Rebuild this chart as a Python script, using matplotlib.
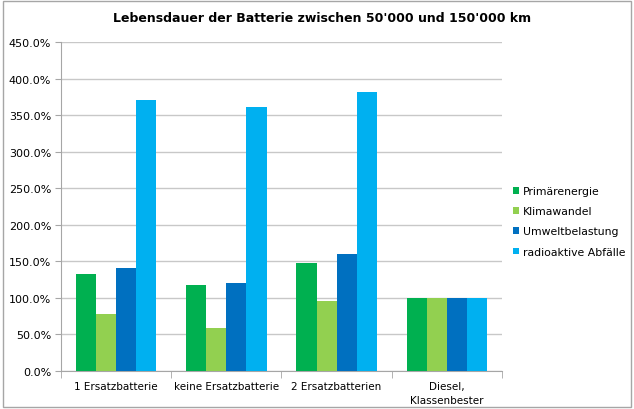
import matplotlib
matplotlib.use("Agg")
import matplotlib.pyplot as plt
import numpy as np
from matplotlib.patches import Rectangle
from matplotlib.ticker import FuncFormatter, MultipleLocator, FixedLocator

categories = ["1 Ersatzbatterie", "keine Ersatzbatterie", "2 Ersatzbatterien", "Diesel,\nKlassenbester"]
series_names = ["Primärenergie", "Klimawandel", "Umweltbelastung", "radioaktive Abfälle"]
primaer = [133, 118, 148, 100]
klima = [78, 59, 96, 100]
umwelt = [141, 120, 160, 100]
radio = [371, 361, 382, 100]
colors = ["#00B050", "#92D050", "#0070C0", "#00B0F0"]

plt.rcParams['font.family'] = ['DejaVu Sans']

fig = plt.figure(figsize=(6.34, 4.10), dpi=100)
ax = fig.add_axes([0.0962, 0.0927, 0.6956, 0.8023])

data = [primaer, klima, umwelt, radio]
x = np.arange(len(categories))
w = 0.182
for i, (vals, name, c) in enumerate(zip(data, series_names, colors)):
    ax.bar(x + (i - 1.5) * w, vals, width=w, color=c, label=name, zorder=3)

ax.set_xlim(-0.5, len(categories) - 0.5)
ax.set_ylim(0, 450)
ax.yaxis.set_major_locator(MultipleLocator(50))
ax.yaxis.set_major_formatter(FuncFormatter(lambda v, p: f"{v:.1f}%"))
ax.grid(axis='y', color='#C8C8C8', linewidth=1, zorder=0)
ax.set_xticks(x)
ax.set_xticklabels(categories, fontsize=7.5, linespacing=1.5)
ax.xaxis.set_minor_locator(FixedLocator(np.arange(-0.5, len(categories), 1.0)))
ax.tick_params(axis='x', which='major', length=0, pad=7)
ax.tick_params(axis='x', which='minor', length=5, color='#A6A6A6', direction='out')
ax.tick_params(axis='y', length=4, color='#A6A6A6', labelsize=8, pad=3)
for s in ['top', 'right']:
    ax.spines[s].set_visible(False)
for s in ['left', 'bottom']:
    ax.spines[s].set_color('#A6A6A6')

fig.text(0.508, 0.955, "Lebensdauer der Batterie zwischen 50'000 und 150'000 km",
         ha='center', va='center', fontsize=9, fontweight='bold')

leg = ax.legend(loc='center left', bbox_to_anchor=(1.01, 0.455), frameon=False,
                fontsize=7.8, handlelength=0.6, handleheight=0.6, handletextpad=0.3,
                labelspacing=0.95, borderaxespad=0.2)

fig.patches.append(Rectangle((0.004, 0.004), 0.992, 0.99, transform=fig.transFigure,
                             fill=False, edgecolor='#A6A6A6', linewidth=1))

fig.savefig("out.png", dpi=100)
